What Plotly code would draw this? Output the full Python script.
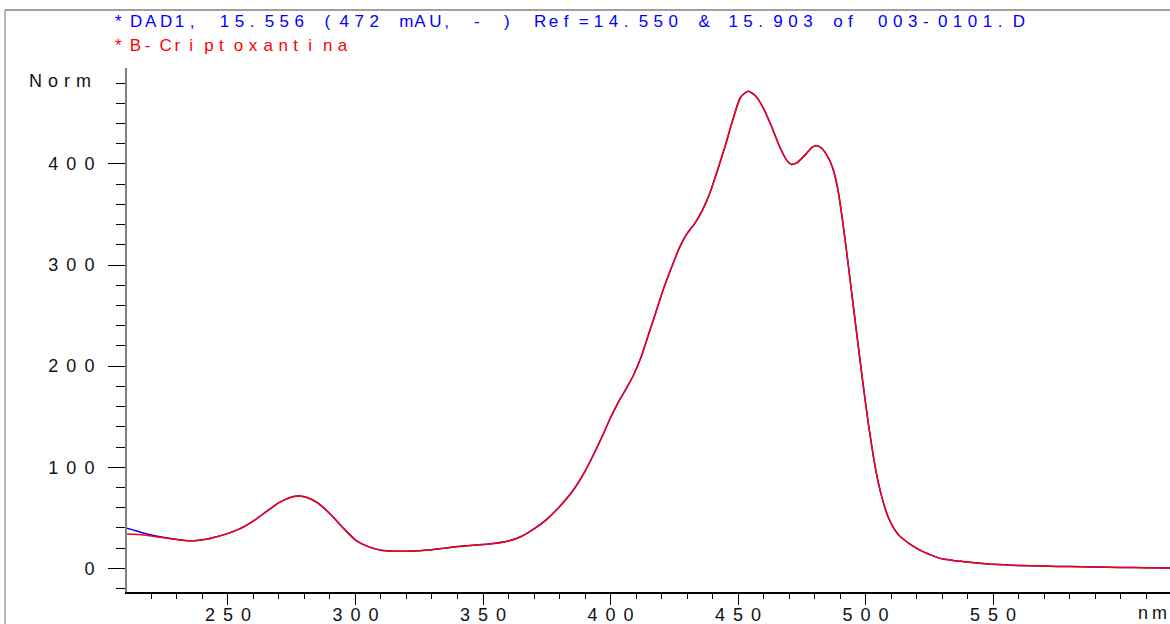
import plotly.graph_objects as go

# ---------------- data ----------------
wavelength_nm = [210, 213, 216, 220, 225, 230, 234, 238, 242, 246, 250, 255, 260, 265, 270, 275, 278, 281,
                 285, 290, 295, 300, 305, 310, 315, 320, 325, 330, 335, 340, 345, 350, 355, 360, 365, 370,
                 375, 380, 385, 390, 395, 397, 400, 403, 406, 409, 412, 415, 418, 421, 424, 427, 430, 433, 436,
                 439, 442, 445, 448, 451, 454, 457, 460, 463, 466, 469, 471, 473, 476, 479, 481, 483, 485,
                 487, 489, 491, 493, 495, 497, 499, 501, 503, 505, 507, 509, 511, 513, 515, 517, 519, 521,
                 523, 526, 530, 535, 540, 550, 560, 570, 580, 590, 600, 610, 620]

sample_dad1 = [40, 37.8, 35.5, 33, 30.5, 28.5, 27.3, 27.6, 29, 31.5, 34.6, 39.6, 47, 56, 65, 70.6, 71.5, 70,
               65, 54, 40.5, 28, 21.5, 18, 17, 17, 17.5, 18.5, 20, 21.5, 22.5, 23.5, 24.8, 27, 31.5, 39,
               48.5, 61, 76, 96, 121, 132, 149, 164, 177, 191, 209, 232, 255, 278, 298, 317, 331, 341, 354,
               371.5, 394, 418, 444, 466, 472, 467, 455, 438, 419, 404, 399.5, 401, 408, 416.5, 418, 415, 408,
               397, 377, 344, 305, 264, 223, 183, 145, 112, 85, 65, 50, 40, 33, 28.5, 24.8, 21.5, 18.6,
               16, 12.8, 9.4, 7.5, 6.3, 4, 2.8, 2.2, 1.7, 1.3, 0.9, 0.6, 0.4]

reference_bcripto = [34, 33.8, 33.2, 32, 30.2, 28.5, 27.3, 27.6, 29, 31.5, 34.6, 39.6, 47, 56, 65, 70.6, 71.5, 70,
                     65, 54, 40.5, 28, 21.5, 18, 17, 17, 17.5, 18.5, 20, 21.5, 22.5, 23.5, 24.8, 27, 31.5, 39,
                     48.5, 61, 76, 96, 121, 132, 149, 164, 177, 191, 209, 232, 255, 278, 298, 317, 331, 341, 354,
                     371.5, 394, 418, 444, 466, 472, 467, 455, 438, 419, 404, 399.5, 401, 408, 416.5, 418, 415, 408,
                     397, 377, 344, 305, 264, 223, 183, 145, 112, 85, 65, 50, 40, 33, 28.5, 24.8, 21.5, 18.6,
                     16, 12.8, 9.4, 7.5, 6.3, 4, 2.8, 2.2, 1.7, 1.3, 0.9, 0.6, 0.4]

x_tick_vals = [250, 300, 350, 400, 450, 500, 550]
x_tick_labels = ["250", "300", "350", "400", "450", "500", "550"]
y_tick_vals = [0, 100, 200, 300, 400]
y_tick_labels = ["0", "100", "200", "300", "400"]

title_sample = "*DAD1, 15.556 (472 mAU, - ) Ref=14.550 & 15.903 of 003-0101.D"
title_reference = "*B-Criptoxantina"
y_unit_label = "Norm"
x_unit_label = "nm"

FONT = "Liberation Sans, Arial, sans-serif"

# Arial / Liberation Sans advance widths (1/1000 em), used to place characters in fixed cells
ARIAL_W = {"*": 389, "D": 722, "A": 667, ",": 278, " ": 278, ".": 278, "(": 333, ")": 333,
           "m": 833, "U": 722, "-": 333, "R": 722, "e": 556, "f": 278, "=": 584, "&": 667,
           "o": 556, "B": 667, "C": 722, "r": 333, "i": 222, "p": 556, "t": 278, "x": 500,
           "a": 556, "n": 556, "N": 722}


def spaced(s, ls):
    """Constant wide letter spacing (no trailing space)."""
    if len(s) < 2:
        return s
    return f"<span style='letter-spacing:{ls}px'>{s[:-1]}</span>{s[-1]}"


def cells(s, cell, size):
    """ChemStation-like print: every character occupies a fixed-width cell."""
    out = []
    for c in s:
        adv = ARIAL_W.get(c, 556) * size / 1000.0
        out.append(f"<span style='letter-spacing:{cell - adv:.2f}px'>{c}</span>")
    return "".join(out)


fig = go.Figure()
fig.add_trace(go.Scatter(x=wavelength_nm, y=sample_dad1, mode="lines",
                         line=dict(color="#0000ff", width=1.5, shape="spline", smoothing=0.6),
                         hoverinfo="skip", showlegend=False))
fig.add_trace(go.Scatter(x=wavelength_nm, y=reference_bcripto, mode="lines",
                         line=dict(color="#ff0000", width=1.5, shape="spline", smoothing=0.6),
                         hoverinfo="skip", showlegend=False))

fig.update_layout(
    width=1170, height=624,
    margin=dict(l=127, r=0, t=68, b=32, pad=0),
    paper_bgcolor="white", plot_bgcolor="white",
    font=dict(family=FONT, size=18, color="#111111"),
    xaxis=dict(range=[210.4, 619.4], showgrid=False, zeroline=False, automargin=False,
               showline=True, linecolor="#000000", linewidth=1.5,
               ticks="outside", ticklen=11, tickwidth=1.2, tickcolor="#000000",
               tickmode="array", tickvals=x_tick_vals,
               ticktext=[spaced(t, 8) for t in x_tick_labels],
               tickfont=dict(family=FONT, size=18, color="#111111"),
               ticklabelstandoff=-5,
               minor=dict(tickmode="linear", tick0=0, dtick=10, ticks="outside", ticklen=5,
                          tickwidth=1.2, tickcolor="#000000", showgrid=False)),
    yaxis=dict(range=[-23.4, 494.9], showgrid=False, zeroline=False, automargin=False,
               showline=True, linecolor="#808080", linewidth=2,
               ticks="outside", ticklen=17, tickwidth=1.2, tickcolor="#000000",
               tickmode="array", tickvals=y_tick_vals,
               ticktext=[spaced(t, 8) for t in y_tick_labels],
               tickfont=dict(family=FONT, size=18, color="#111111"),
               ticklabelstandoff=10,
               minor=dict(tickmode="linear", tick0=0, dtick=20, ticks="outside", ticklen=9,
                          tickwidth=1.2, tickcolor="#000000", showgrid=False)),
    annotations=[
        dict(text=cells(title_sample, 14.95, 17), xref="paper", yref="paper",
             x=-0.0134, y=1.0884, xanchor="left", yanchor="middle", showarrow=False,
             font=dict(family=FONT, size=17, color="#0000ff")),
        dict(text=cells(title_reference, 14.85, 17), xref="paper", yref="paper",
             x=-0.0134, y=1.0420, xanchor="left", yanchor="middle", showarrow=False,
             font=dict(family=FONT, size=17, color="#ff0000")),
        dict(text=spaced(y_unit_label, 6), xref="paper", yref="paper",
             x=-0.0326, y=0.976, xanchor="right", yanchor="middle", showarrow=False,
             font=dict(family=FONT, size=18, color="#111111")),
        dict(text=spaced(x_unit_label, 4), xref="paper", yref="paper",
             x=0.967, y=-0.040, xanchor="left", yanchor="middle", showarrow=False,
             font=dict(family=FONT, size=18, color="#111111")),
    ],
    shapes=[
        dict(type="line", xref="paper", yref="paper", x0=-0.117, x1=1.01, y0=1.1107, y1=1.1107,
             line=dict(color="#808080", width=1.5)),
        dict(type="line", xref="paper", yref="paper", x0=-0.117, x1=-0.117, y0=1.1107, y1=-0.1,
             line=dict(color="#a0a0a0", width=1.5)),
    ],
)

fig.write_html("out.html", config={"displayModeBar": False})
